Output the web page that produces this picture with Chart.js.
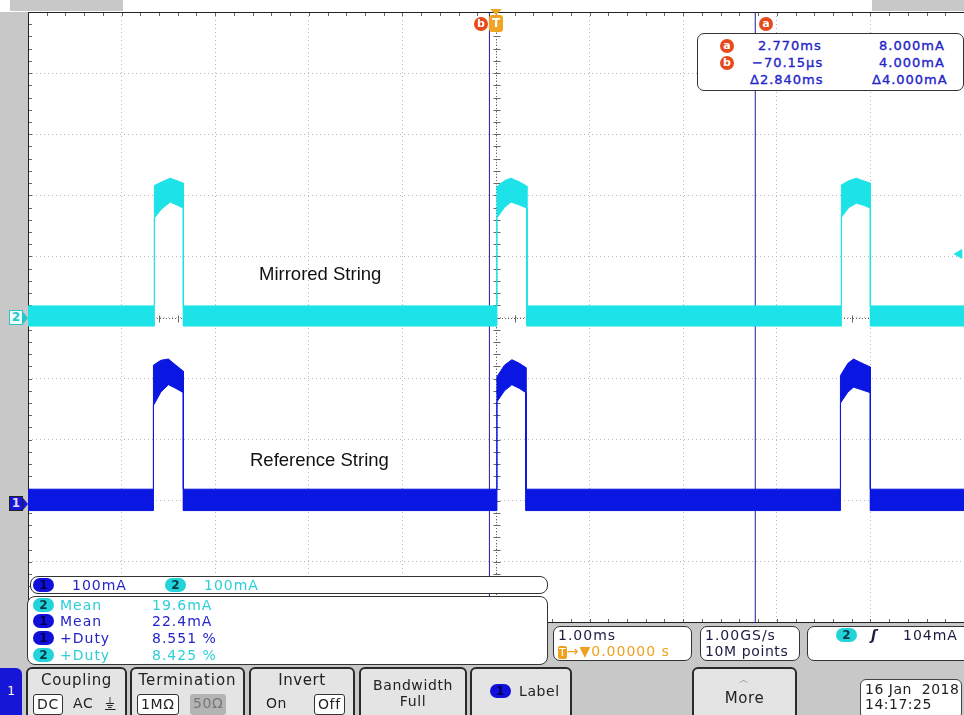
<!DOCTYPE html>
<html>
<head>
<meta charset="utf-8">
<script src="https://cdn.jsdelivr.net/npm/chart.js@4.4.1/dist/chart.umd.min.js"></script>
<style>
  body { margin: 0; background: #fff; }
  #scope { position: relative; width: 964px; height: 715px; overflow: hidden; background: #fff; font-family: "DejaVu Sans", sans-serif; }
  #scopeChart { position: absolute; left: 0; top: 0; }
  .gray { position: absolute; background: #c8c8c8; }
  .box { position: absolute; background: #fff; border: 1px solid #333; box-sizing: border-box; }
  .t { position: absolute; white-space: nowrap; font-size: 13px; line-height: 16px; }
  .m { font-size: 14px; letter-spacing: 1px; }
  .rd { letter-spacing: 1px; -webkit-text-stroke: 0.35px #2424c8; }
  .blue { color: #2424c8; }
  .cyan { color: #2ccfd6; }
  .pill { position: absolute; width: 21px; height: 14px; border-radius: 7px; font-size: 12px; line-height: 14px; text-align: center; font-weight: bold; }
  .p1 { background: #1010d8; color: #000050; }
  .p2 { background: #22d4da; color: #063848; }
  .circ { position: absolute; width: 14px; height: 14px; border-radius: 7px; background: #e64a1c; color: #fff; font-size: 11px; line-height: 13px; text-align: center; font-weight: bold; }
  .btn { position: absolute; top: 667px; height: 56px; background: #e4e4e4; border: 2px solid #2a2a2a; border-radius: 6px 6px 0 0; box-sizing: border-box; font-size: 14px; letter-spacing: 0.6px; color: #222; }
  .btn .title { position: absolute; left: 0; right: 0; top: 2px; text-align: center; font-size: 15px; }
  .sub { position: absolute; top: 25px; height: 21px; line-height: 19px; padding: 0 3px; box-sizing: border-box; }
  .sel { background: #fff; border: 1px solid #333; border-radius: 3px; }
  .label { position: absolute; font-family: "Liberation Sans", Arial, sans-serif; font-size: 18.5px; color: #111; white-space: nowrap; }
</style>
</head>
<body>
<div id="scope">
  <div class="gray" style="left:0;top:12px;width:28px;height:660px"></div>
  <div class="gray" style="left:0;top:623px;width:964px;height:92px"></div>
  <div class="gray" style="left:10px;top:0;width:113px;height:11px"></div>
  <div class="gray" style="left:872px;top:0;width:92px;height:11px"></div>

  <canvas id="scopeChart" width="964" height="715"></canvas>

  <!-- top markers -->
  <div class="circ" style="left:474px;top:17px">b</div>
  <div style="position:absolute;left:490px;top:9px;width:0;height:0;border-left:6px solid transparent;border-right:6px solid transparent;border-top:6px solid #f0a424"></div>
  <div style="position:absolute;left:489px;top:15px;width:14px;height:17px;border-radius:3px;background:#f0a424;color:#fff;font-size:12px;line-height:17px;text-align:center;font-weight:bold">T</div>
  <div class="circ" style="left:759px;top:17px">a</div>

  <!-- cursor readout -->
  <div class="box" style="left:697px;top:33px;width:267px;height:58px;border-radius:7px"></div>
  <div class="circ" style="left:720px;top:39px">a</div>
  <div class="circ" style="left:720px;top:56px">b</div>
  <div class="t blue rd" style="left:758px;top:38px">2.770ms</div>
  <div class="t blue rd" style="left:752px;top:55px">−70.15µs</div>
  <div class="t blue rd" style="left:750px;top:72px">Δ2.840ms</div>
  <div class="t blue rd" style="left:879px;top:38px">8.000mA</div>
  <div class="t blue rd" style="left:879px;top:55px">4.000mA</div>
  <div class="t blue rd" style="left:872px;top:72px">Δ4.000mA</div>

  <div class="label" style="left:259px;top:263px">Mirrored String</div>
  <div class="label" style="left:250px;top:449px">Reference String</div>

  <!-- channel ground markers -->
  <div style="position:absolute;left:9px;top:310px;width:14px;height:15px;background:#eefcfc;border:1px solid #22c8cc;box-sizing:border-box;color:#22c8cc;font-size:12px;line-height:13px;text-align:center;font-weight:bold">2</div>
  <div style="position:absolute;left:23px;top:312px;width:0;height:0;border-top:6px solid transparent;border-bottom:6px solid transparent;border-left:5px solid #22c8cc"></div>
  <div style="position:absolute;left:9px;top:496px;width:14px;height:15px;background:#1616d8;border:1px solid #222;box-sizing:border-box;color:#dde;font-size:12px;line-height:13px;text-align:center;font-weight:bold">1</div>
  <div style="position:absolute;left:23px;top:498px;width:0;height:0;border-top:6px solid transparent;border-bottom:6px solid transparent;border-left:5px solid #1616d8"></div>

  <!-- scale readout -->
  <div class="box" style="left:30px;top:576px;width:518px;height:18px;border-radius:8px"></div>
  <div class="pill p1" style="left:33px;top:578px">1</div>
  <div class="t m blue" style="left:72px;top:577px">100mA</div>
  <div class="pill p2" style="left:165px;top:578px">2</div>
  <div class="t m cyan" style="left:204px;top:577px">100mA</div>

  <!-- measurements -->
  <div class="box" style="left:27px;top:596px;width:521px;height:69px;border-radius:8px"></div>
  <div class="pill p2" style="left:33px;top:598px">2</div>
  <div class="t m cyan" style="left:60px;top:597px">Mean</div>
  <div class="t m cyan" style="left:152px;top:597px">19.6mA</div>
  <div class="pill p1" style="left:33px;top:614px">1</div>
  <div class="t m blue" style="left:60px;top:613px">Mean</div>
  <div class="t m blue" style="left:152px;top:613px">22.4mA</div>
  <div class="pill p1" style="left:33px;top:631px">1</div>
  <div class="t m blue" style="left:60px;top:630px">+Duty</div>
  <div class="t m blue" style="left:152px;top:630px">8.551 %</div>
  <div class="pill p2" style="left:33px;top:648px">2</div>
  <div class="t m cyan" style="left:60px;top:647px">+Duty</div>
  <div class="t m cyan" style="left:152px;top:647px">8.425 %</div>

  <!-- timebase / acquisition / trigger -->
  <div class="box" style="left:553px;top:626px;width:139px;height:35px;border-radius:7px"></div>
  <div class="t m" style="left:558px;top:627px;color:#1c1c40">1.00ms</div>
  <div class="t m" style="left:558px;top:643px;color:#f0a020"><span style="background:#f0a020;color:#fff;padding:0 1px;border-radius:2px;font-size:11px;letter-spacing:0">T</span>→▼0.00000 s</div>
  <div class="box" style="left:700px;top:626px;width:100px;height:35px;border-radius:7px"></div>
  <div class="t m" style="left:705px;top:627px;color:#1c1c40">1.00GS/s</div>
  <div class="t m" style="left:705px;top:643px;color:#1c1c40;letter-spacing:0.6px">10M points</div>
  <div class="box" style="left:807px;top:626px;width:170px;height:35px;border-radius:7px"></div>
  <div class="pill p2" style="left:836px;top:628px">2</div>
  <div class="t" style="left:871px;top:627px;color:#1c1c40;font-weight:bold;font-style:italic;font-size:14px">ʃ</div>
  <div class="t m" style="left:903px;top:627px;color:#1c1c40">104mA</div>

  <!-- soft buttons -->
  <div style="position:absolute;left:0;top:668px;width:22px;height:47px;background:#1616d8;border-radius:0 6px 0 0;color:#ffe;font-size:12px;line-height:47px;text-align:center">1</div>
  <div class="btn" style="left:26px;width:101px">
    <div class="title">Coupling</div>
    <div class="sub sel" style="left:5px">DC</div>
    <div class="sub" style="left:42px">AC</div>
    <div class="sub" style="left:74px;text-decoration:underline">⏚</div>
  </div>
  <div class="btn" style="left:130px;width:115px">
    <div class="title" style="letter-spacing:0.9px">Termination</div>
    <div class="sub sel" style="left:5px">1MΩ</div>
    <div class="sub" style="left:58px;background:#b4b4b4;color:#777;border-radius:3px">50Ω</div>
  </div>
  <div class="btn" style="left:249px;width:106px">
    <div class="title">Invert</div>
    <div class="sub" style="left:12px">On</div>
    <div class="sub sel" style="left:63px">Off</div>
  </div>
  <div class="btn" style="left:359px;width:108px">
    <div class="title" style="top:8px;line-height:16px;font-size:14px">Bandwidth<br>Full</div>
  </div>
  <div class="btn" style="left:470px;width:102px">
    <div class="pill p1" style="left:18px;top:15px">1</div>
    <div class="t" style="left:47px;top:14px;font-size:14px">Label</div>
  </div>
  <div class="btn" style="left:692px;width:105px">
    <div class="title" style="top:4px;font-size:10px;color:#666">︿</div>
    <div class="title" style="top:20px">More</div>
  </div>
  <div class="box" style="left:860px;top:679px;width:102px;height:40px;border-radius:6px;border-color:#444"></div>
  <div class="t" style="left:865px;top:681px;color:#222;font-size:14px;letter-spacing:0.5px">16 Jan&nbsp; 2018</div>
  <div class="t" style="left:865px;top:696px;color:#222;font-size:14px;letter-spacing:0.5px">14:17:25</div>
</div>

<script>
// time in ms relative to trigger, current in mA
const timeCh2 = [-5, -3.65, -3.65, -3.57, -3.48, -3.41, -3.34, -3.34, 0.01, 0.01, 0.09, 0.16, 0.25, 0.33, 0.33, 3.69, 3.69, 3.77, 3.85, 3.92, 4.0, 4.0, 5];
const upperCh2 = [19, 19, 216, 222, 228, 224, 220, 19, 19, 214, 224, 228, 222, 215, 19, 19, 217, 224, 228, 224, 220, 19, 19];
const lowerCh2 = [-14, -14, 163, 178, 189, 184, 179, -14, -14, 163, 180, 189, 184, 179, -14, -14, 164, 180, 187, 184, 179, -14, -14];

const timeCh1 = [-5, -3.66, -3.66, -3.58, -3.5, -3.42, -3.34, -3.34, 0.01, 0.01, 0.09, 0.17, 0.25, 0.32, 0.32, 3.68, 3.68, 3.76, 3.82, 3.9, 4.0, 4.0, 5];
const upperCh1 = [19, 19, 222, 230, 232, 222, 212, 19, 19, 203, 222, 231, 225, 218, 19, 19, 205, 225, 232, 226, 219, 19, 19];
const lowerCh1 = [-16, -16, 156, 178, 190, 184, 177, -16, -16, 162, 180, 190, 184, 177, -16, -16, 160, 178, 186, 182, 177, -16, -16];

const cursorTimes = [2.77, -0.07015];
const triggerLevel = 104;

const cyan = "#1de3e8";
const blue = "#0a16e2";

const pts = (t, v) => t.map((x, i) => ({ x: x, y: v[i] }));

const scopeFrame = {
  id: "scopeFrame",
  beforeDatasetsDraw(chart) {
    const { ctx, chartArea: a, scales } = chart;
    const cx = Math.round(scales.x.getPixelForValue(0)) + 0.5;
    const cy = Math.round(scales.y.getPixelForValue(0)) + 0.5;
    const dx = (scales.x.getPixelForValue(1) - scales.x.getPixelForValue(0)) / 5;
    const dy = (scales.y.getPixelForValue(0) - scales.y.getPixelForValue(100)) / 5;
    ctx.save();
    ctx.lineWidth = 1;
    ctx.strokeStyle = "#666";
    ctx.setLineDash([1, 2]);
    ctx.beginPath();
    ctx.moveTo(cx, a.top);
    ctx.lineTo(cx, a.bottom);
    ctx.moveTo(a.left, cy);
    ctx.lineTo(a.right, cy);
    ctx.stroke();
    ctx.setLineDash([]);
    ctx.beginPath();
    for (let v = a.top; v <= a.bottom + 1; v += dy) {
      const p = Math.round(v) + 0.5;
      ctx.moveTo(cx - 3, p); ctx.lineTo(cx + 4, p);
      ctx.moveTo(a.left, p); ctx.lineTo(a.left + 4, p);
    }
    for (let h = a.left; h <= a.right + 1; h += dx) {
      const p = Math.round(h) + 0.5;
      ctx.moveTo(p, cy - 3); ctx.lineTo(p, cy + 4);
      ctx.moveTo(p, a.top); ctx.lineTo(p, a.top + 4);
      ctx.moveTo(p, a.bottom); ctx.lineTo(p, a.bottom - 4);
    }
    ctx.stroke();
    ctx.strokeStyle = "#222";
    ctx.beginPath();
    ctx.moveTo(a.left + 0.5, a.bottom);
    ctx.lineTo(a.left + 0.5, a.top + 0.5);
    ctx.lineTo(a.right, a.top + 0.5);
    ctx.moveTo(a.left, a.bottom - 0.5);
    ctx.lineTo(a.right, a.bottom - 0.5);
    ctx.stroke();
    ctx.restore();
  },
};

const ctx = document.getElementById("scopeChart").getContext("2d");
const scopeChart = new Chart(ctx, {
  type: "line",
  data: {
    datasets: [
      {
        label: "Ch2 upper",
        data: pts(timeCh2, upperCh2),
        yAxisID: "y",
        borderColor: cyan,
        borderWidth: 1,
        pointRadius: 0,
        fill: false,
      },
      {
        label: "Ch2 lower",
        data: pts(timeCh2, lowerCh2),
        yAxisID: "y",
        borderColor: cyan,
        backgroundColor: cyan,
        borderWidth: 1,
        pointRadius: 0,
        fill: "-1",
      },
      {
        label: "Ch1 upper",
        data: pts(timeCh1, upperCh1),
        yAxisID: "y1",
        borderColor: blue,
        borderWidth: 1,
        pointRadius: 0,
        fill: false,
      },
      {
        label: "Ch1 lower",
        data: pts(timeCh1, lowerCh1),
        yAxisID: "y1",
        borderColor: blue,
        backgroundColor: blue,
        borderWidth: 1,
        pointRadius: 0,
        fill: "-1",
      },
      {
        label: "Cursor a",
        data: [{ x: cursorTimes[0], y: -500 }, { x: cursorTimes[0], y: 500 }],
        yAxisID: "y",
        borderColor: "#1e1e9a",
        borderWidth: 1,
        pointRadius: 0,
      },
      {
        label: "Cursor b",
        data: [{ x: cursorTimes[1], y: -500 }, { x: cursorTimes[1], y: 500 }],
        yAxisID: "y",
        borderColor: "#1e1e9a",
        borderWidth: 1,
        pointRadius: 0,
      },
      {
        label: "Trigger level",
        data: [{ x: 4.95, y: triggerLevel }],
        yAxisID: "y",
        showLine: false,
        pointStyle: "triangle",
        rotation: -90,
        pointRadius: 5,
        backgroundColor: cyan,
        borderColor: cyan,
        clip: false,
      },
    ],
  },
  options: {
    responsive: false,
    animation: false,
    layout: { autoPadding: false, padding: { left: 28, top: 12, right: 0, bottom: 92 } },
    scales: {
      x: {
        type: "linear",
        min: -5,
        max: 5,
        ticks: { display: false, stepSize: 1 },
        grid: { color: "#b8b8b8", drawTicks: false },
        border: { display: false, dash: [1, 3] },
      },
      y: {
        min: -500,
        max: 500,
        ticks: { display: false, stepSize: 100 },
        grid: { color: "#b8b8b8", drawTicks: false },
        border: { display: false, dash: [1, 3] },
      },
      y1: {
        display: false,
        min: -200,
        max: 800,
      },
    },
    plugins: {
      legend: { display: false },
      tooltip: { enabled: false },
    },
  },
  plugins: [scopeFrame],
});
</script>
</body>
</html>
